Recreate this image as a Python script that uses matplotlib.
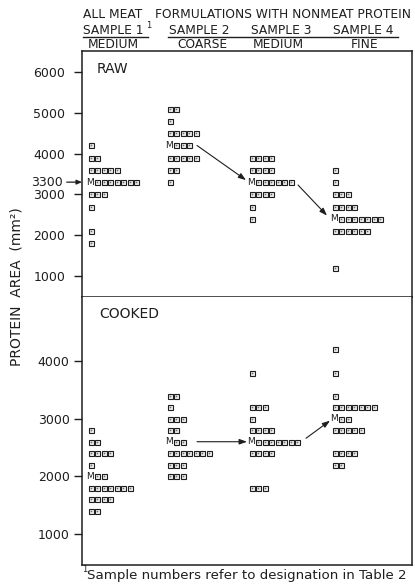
import matplotlib
matplotlib.use("Agg")
import matplotlib.pyplot as plt

# ---------------- data ----------------
SAMPLES = ["SAMPLE 1", "SAMPLE 2", "SAMPLE 3", "SAMPLE 4"]
TEXTURES = ["MEDIUM", "COARSE", "MEDIUM", "FINE"]

# RAW panel: row values (mm^2) and number of squares per row
RAW_S1_VALUES = [4200, 3900, 3600, 3300, 3000, 2700, 2100, 1800]
RAW_S1_COUNTS = [1, 2, 5, 7, 3, 1, 1, 1]
RAW_S2_VALUES = [5100, 4800, 4500, 4200, 3900, 3600, 3300]
RAW_S2_COUNTS = [2, 1, 5, 3, 5, 2, 1]
RAW_S3_VALUES = [3900, 3600, 3300, 3000, 2700, 2400]
RAW_S3_COUNTS = [4, 4, 6, 4, 1, 1]
RAW_S4_VALUES = [3600, 3300, 3000, 2700, 2400, 2100, 1200]
RAW_S4_COUNTS = [1, 1, 3, 4, 7, 6, 1]
RAW_MEANS = [3300, 4200, 3300, 2400]

# COOKED panel
COOK_S1_VALUES = [2800, 2600, 2400, 2200, 2000, 1800, 1600, 1400]
COOK_S1_COUNTS = [1, 2, 4, 1, 2, 7, 4, 2]
COOK_S2_VALUES = [3400, 3200, 3000, 2800, 2600, 2400, 2200, 2000]
COOK_S2_COUNTS = [2, 1, 3, 2, 2, 7, 3, 3]
COOK_S3_VALUES = [3800, 3200, 3000, 2800, 2600, 2400, 1800]
COOK_S3_COUNTS = [1, 3, 1, 4, 7, 4, 3]
COOK_S4_VALUES = [4200, 3800, 3400, 3200, 3000, 2800, 2400, 2200]
COOK_S4_COUNTS = [1, 1, 1, 7, 2, 5, 4, 2]
COOK_MEANS = [2000, 2600, 2600, 3000]

RAW_TICKS = [1000, 2000, 3000, 4000, 5000, 6000]
COOK_TICKS = [1000, 2000, 3000, 4000]
RAW_MARKED = 3300

# ---------------- layout ----------------
W, H = 415, 587
fig = plt.figure(figsize=(W / 100, H / 100), dpi=100)
INK = "#1e1e1e"

def fx(px):
    return px / W

def fy(py):
    return 1 - py / H

AX_L, AX_R = 82, 412
ax_raw = fig.add_axes([fx(AX_L), fy(297), (AX_R - AX_L) / W, (297 - 51) / H])
ax_ck = fig.add_axes([fx(AX_L), fy(565), (AX_R - AX_L) / W, (565 - 297) / H])

COL_START = [8.5, 87.5, 169.5, 252.5]  # x of first slot (px from axes left)
PITCH = 6.5

def draw_panel(ax, values_list, counts_list, means, ylim, ticks, label, label_xy, pad):
    ax.set_xlim(0, AX_R - AX_L)
    ax.set_ylim(*ylim)
    for s, (vals, cnts) in enumerate(zip(values_list, counts_list)):
        x0 = COL_START[s]
        for v, c in zip(vals, cnts):
            if v == means[s]:
                ax.text(x0 - 0.5, v, "M", fontsize=6.5, ha="center", va="center",
                        color=INK)
                xs = [x0 + PITCH * (k + 1) for k in range(c)]
            else:
                xs = [x0 + PITCH * k for k in range(c)]
            ax.plot(xs, [v] * len(xs), ls="none", marker="s", ms=3.6,
                    mfc="#efefef", mec=INK, mew=0.8)
            ax.plot(xs, [v] * len(xs), ls="none", marker="s", ms=1.1,
                    mfc="#6a6a6a", mec="none")
    ax.set_xticks([])
    ax.set_yticks(ticks)
    ax.set_yticklabels([str(t) for t in ticks], fontsize=9, color=INK)
    ax.tick_params(axis="y", direction="out", length=6, width=1.0,
                   color=INK, pad=pad)
    for sp in ax.spines.values():
        sp.set_color(INK)
        sp.set_linewidth(1.1)
    ax.text(label_xy[0], label_xy[1], label, transform=ax.transAxes,
            fontsize=10, ha="left", va="center", color=INK)

draw_panel(ax_raw,
           [RAW_S1_VALUES, RAW_S2_VALUES, RAW_S3_VALUES, RAW_S4_VALUES],
           [RAW_S1_COUNTS, RAW_S2_COUNTS, RAW_S3_COUNTS, RAW_S4_COUNTS],
           RAW_MEANS, (480, 6520), RAW_TICKS, "RAW", (0.045, 0.925), 6)
draw_panel(ax_ck,
           [COOK_S1_VALUES, COOK_S2_VALUES, COOK_S3_VALUES, COOK_S4_VALUES],
           [COOK_S1_COUNTS, COOK_S2_COUNTS, COOK_S3_COUNTS, COOK_S4_COUNTS],
           COOK_MEANS, (462, 5110), COOK_TICKS, "COOKED", (0.052, 0.935), 3)
ax_ck.spines["top"].set_visible(False)

# marked 3300 value on raw axis
ax_raw.annotate(str(RAW_MARKED), xy=(0, RAW_MARKED),
                xycoords=ax_raw.get_yaxis_transform(),
                xytext=(-14, 0), textcoords="offset points",
                ha="right", va="center", fontsize=9, color=INK,
                arrowprops=dict(arrowstyle="-|>,head_length=0.35,head_width=0.15",
                                lw=0.9, color=INK, shrinkA=1, shrinkB=0))

# arrows between means
def mean_count(vals, cnts, m):
    return cnts[vals.index(m)]

def connect(ax, s_from, vals, cnts, means, dy0, dy1, gap0, gap1):
    n = mean_count(vals, cnts, means[s_from])
    x_start = COL_START[s_from] + PITCH * n + gap0
    x_end = COL_START[s_from + 1] - gap1
    ax.annotate("", xy=(x_end, means[s_from + 1] + dy1),
                xytext=(x_start, means[s_from] + dy0),
                arrowprops=dict(arrowstyle="-|>,head_length=0.45,head_width=0.16",
                                lw=0.8, color=INK, shrinkA=0, shrinkB=0))

connect(ax_raw, 1, RAW_S2_VALUES, RAW_S2_COUNTS, RAW_MEANS, 0, 50, 8, 5.5)
connect(ax_raw, 2, RAW_S3_VALUES, RAW_S3_COUNTS, RAW_MEANS, -70, 80, 7.5, 7.5)
connect(ax_ck, 1, COOK_S2_VALUES, COOK_S2_COUNTS, COOK_MEANS, 0, 0, 14.5, 4.5)
connect(ax_ck, 2, COOK_S3_VALUES, COOK_S3_COUNTS, COOK_MEANS, 60, -35, 9, 4.5)

# ---------------- header ----------------
HDR = 8.8
fig.text(fx(113), fy(15), "ALL MEAT", fontsize=HDR, ha="center", va="center", color=INK)
fig.text(fx(283), fy(15), "FORMULATIONS WITH NONMEAT PROTEIN", fontsize=HDR,
         ha="center", va="center", color=INK)
sample_x = [113, 199, 281, 363]
texture_x = [113, 202, 278, 365]
for sx, name in zip(sample_x, SAMPLES):
    fig.text(fx(sx), fy(30), name, fontsize=HDR, ha="center", va="center", color=INK)
for tx, name in zip(texture_x, TEXTURES):
    fig.text(fx(tx), fy(44), name, fontsize=HDR, ha="center", va="center", color=INK)
fig.text(fx(146), fy(26), "1", fontsize=6, ha="left", va="center", color=INK)
fig.add_artist(plt.Line2D([fx(83), fx(148)], [fy(37), fy(37)], color=INK, lw=1.0))
fig.add_artist(plt.Line2D([fx(168), fx(398)], [fy(37), fy(37)], color=INK, lw=1.0))

# y label
fig.text(fx(17), fy(287), "PROTEIN  AREA  (mm²)", rotation=90, fontsize=10,
         ha="center", va="center", color=INK)

# footnote
fig.text(fx(82), fy(569), "1", fontsize=6, ha="left", va="center", color=INK)
fig.text(fx(87), fy(576), "Sample numbers refer to designation in Table 2",
         fontsize=9.6, ha="left", va="center", color=INK)

fig.savefig("out.png", dpi=100, facecolor="white")
